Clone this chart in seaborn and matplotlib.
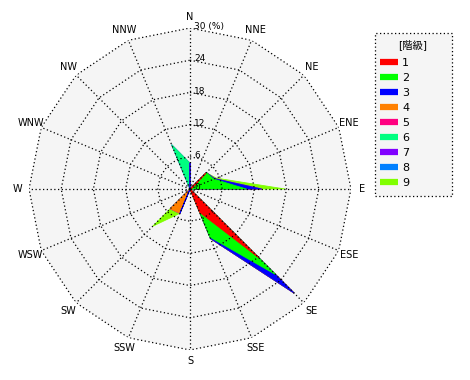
import numpy as np
import matplotlib
matplotlib.use('Agg')
import matplotlib.pyplot as plt
from matplotlib.lines import Line2D
from matplotlib.patches import Rectangle
import seaborn as sns

sns.set_style('white')
plt.rcParams['font.family'] = ['DejaVu Sans', 'Noto Sans CJK JP']
plt.rcParams['text.color'] = 'black'

# 16 directions, clockwise from north
directions = ['N', 'NNE', 'NE', 'ENE', 'E', 'ESE', 'SE', 'SSE',
              'S', 'SSW', 'SW', 'WSW', 'W', 'WNW', 'NW', 'NNW']

# frequency (%) by class, per direction
class1 = [0, 0, 4.1, 0.4, 0.3, 0, 18.1, 4.7, 0, 0, 0, 0, 0, 0, 0, 0]
class2 = [0, 0, 0.2, 4.4, 10.2, 0, 4.4, 5.0, 0, 0, 0, 0, 0, 0, 0, 0]
class3 = [4.8, 0, 0, 0.2, 2.8, 0, 4.9, 0.3, 0, 4.9, 0, 0, 0, 0, 0, 0]
class4 = [0, 0, 0, 0, 0, 0, 0, 0, 0, 0, 5.2, 0, 0, 0, 0, 0]
class5 = [0] * 16
class6 = [0, 0, 0, 0, 0, 0, 0, 0, 0, 0, 0, 0, 0, 0, 0, 8.9]
class7 = [0] * 16
class8 = [0] * 16
class9 = [0, 0, 0, 0.3, 4.4, 0, 0, 0, 0, 0, 4.6, 0, 0, 0, 0, 0]

class_labels = ['1', '2', '3', '4', '5', '6', '7', '8', '9']
class_colors = ['#ff0000', '#00ff00', '#0000ff', '#ff8000', '#ff0080',
                '#00ff80', '#8000ff', '#0080ff', '#80ff00']
rings = [6, 12, 18, 24, 30]

data = np.array([class1, class2, class3, class4, class5,
                 class6, class7, class8, class9])
cum = np.cumsum(data, axis=0)

theta = np.deg2rad(np.arange(16) * 22.5)
theta_c = np.append(theta, theta[0])

fig = plt.figure(figsize=(4.7, 3.8), dpi=100)
ax = fig.add_axes([29 / 470, 30 / 380, 322 / 470, 322 / 380], projection='polar')
ax.set_theta_zero_location('N')
ax.set_theta_direction(-1)
ax.set_ylim(0, 30)
ax.set_axis_off()

# background polygon
ax.fill(theta_c, [30] * 17, color='#f5f5f5', zorder=0, lw=0)

# stacked radar polygons, outer class first
for k in range(8, -1, -1):
    r = np.append(cum[k], cum[k][0])
    ax.fill(theta_c, r, facecolor=class_colors[k], edgecolor=class_colors[k],
            lw=0.6, joinstyle='round', zorder=2)

# dotted polygon grid
for rr in rings:
    ax.plot(theta_c, [rr] * 17, color='black', lw=0.9,
            linestyle=(0, (1, 2)), zorder=3)
for t in theta:
    ax.plot([t, t], [0, 30], color='black', lw=0.9,
            linestyle=(0, (1, 2)), zorder=3)

# radial labels
for rr in [0] + rings:
    txt = '30 (%)' if rr == 30 else str(rr)
    ax.annotate(txt, xy=(0, rr), xytext=(3, 1), textcoords='offset points',
                ha='left', va='center', fontsize=6.5, zorder=4,
                annotation_clip=False)

# direction labels
for t, d in zip(theta, directions):
    ax.text(t, 32.1, d, ha='center', va='center', fontsize=7, clip_on=False)

# legend box
fig.patches.append(Rectangle((375 / 470, 1 - 196 / 380), 77 / 470, 163 / 380,
                             transform=fig.transFigure, facecolor='#f5f5f5',
                             edgecolor='black', lw=0.9, linestyle=(0, (1, 2))))
fig.text(413 / 470, 1 - 45 / 380, '[階級]', ha='center', va='center', fontsize=7.5)
handles = [Line2D([0], [0], color=c, lw=4.5, solid_capstyle='butt')
           for c in class_colors]
leg = fig.legend(handles, class_labels, loc='upper left',
                 bbox_to_anchor=(371 / 470, 1 - 49 / 380), frameon=False,
                 fontsize=8, handlelength=1.6, handletextpad=0.4,
                 labelspacing=0.45, borderpad=0.3)

fig.savefig('out.png', dpi=100)
